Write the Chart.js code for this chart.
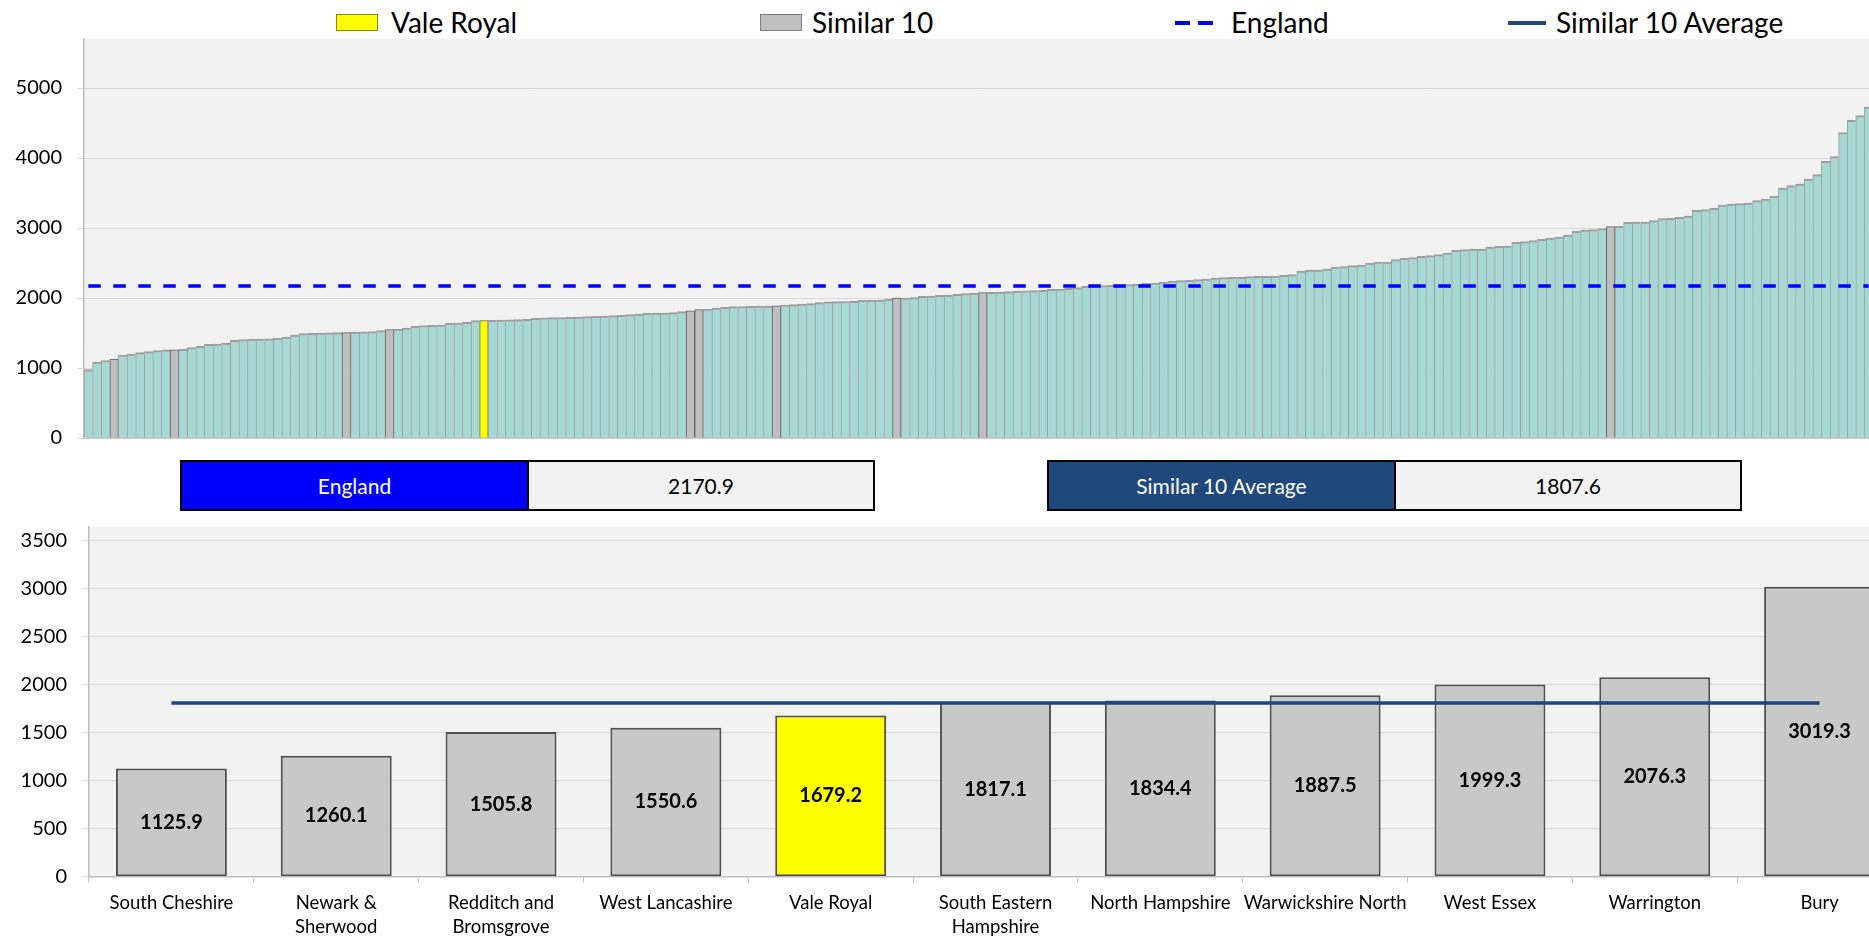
<!DOCTYPE html>
<html>
<head>
<meta charset="utf-8">
<script src="https://cdn.jsdelivr.net/npm/chart.js@4.4.0/dist/chart.umd.min.js"></script>
<style>
  html, body { margin: 0; padding: 0; background: #fff; width: 1869px; height: 936px; overflow: hidden; }
  body { position: relative; font-family: Lato, sans-serif; color: #000; }
  #topChart { position: absolute; left: 0; top: 0; }
  #bottomChart { position: absolute; left: 0; top: 520px; }
  .leg-text { position: absolute; top: 8px; height: 28px; line-height: 28px; font-size: 28px; white-space: nowrap; }
  .leg-box { position: absolute; top: 14px; width: 42px; height: 17px; box-sizing: border-box; }
  .info { position: absolute; top: 460px; width: 695px; height: 51px; border: 2px solid #000; box-sizing: border-box; display: flex; font-size: 21px; }
  .info div { display: flex; align-items: center; justify-content: center; }
  .info .name { width: 345px; color: #fff; border-right: 2px solid #000; }
  .info .val { flex: 1; background: #F2F2F2; }
</style>
</head>
<body>

<!-- legend for the top chart -->
<div class="leg-box" style="left:336px; background:#FFFF00; border:1px solid #8a8a00;"></div>
<div class="leg-text" style="left:391px;">Vale Royal</div>
<div class="leg-box" style="left:760px; background:#BFBFBF; border:1px solid #7f7f7f;"></div>
<div class="leg-text" style="left:812px;">Similar 10</div>
<svg style="position:absolute; left:1175px; top:19px;" width="40" height="8"><line x1="0" y1="4" x2="40" y2="4" stroke="#0000FF" stroke-width="4" stroke-dasharray="15 8"/></svg>
<div class="leg-text" style="left:1231px;">England</div>
<div style="position:absolute; left:1508px; top:21px; width:38px; height:4px; background:#1F497D;"></div>
<div class="leg-text" style="left:1556px;">Similar 10 Average</div>

<canvas id="topChart" width="1873" height="445"></canvas>

<div class="info" style="left:180px;"><div class="name" style="background:#0000FF;">England</div><div class="val" id="englandVal"></div></div>
<div class="info" style="left:1047px;"><div class="name" style="background:#1F497D;">Similar 10 Average</div><div class="val" id="similarVal"></div></div>

<canvas id="bottomChart" width="1902" height="416"></canvas>

<script>
// rate for every district, sorted low to high (top chart)
const districtRates = [
  976, 1086, 1105, 1125.9, 1186, 1200, 1219, 1233, 1250, 1258,
  1260.1, 1266, 1290, 1310, 1338, 1343, 1357, 1395, 1405, 1412,
  1414, 1416, 1424, 1443, 1471, 1490, 1495, 1500, 1503, 1505,
  1505.8, 1514, 1518, 1520, 1533, 1550.6, 1552, 1571, 1595, 1605,
  1610, 1614, 1638, 1643, 1652, 1676, 1679.2, 1681, 1686, 1689,
  1691, 1695, 1710, 1717, 1719, 1721, 1724, 1729, 1733, 1738,
  1743, 1748, 1752, 1762, 1771, 1781, 1784, 1786, 1790, 1805,
  1817.1, 1834.4, 1843, 1857, 1867, 1876, 1879, 1881, 1883, 1885,
  1887.5, 1900, 1905, 1914, 1919, 1933, 1945, 1948, 1950, 1952,
  1965, 1967, 1971, 1986, 1999.3, 2000, 2005, 2024, 2029, 2038,
  2043, 2052, 2062, 2071, 2076.3, 2081, 2086, 2090, 2100, 2103,
  2105, 2110, 2124, 2129, 2138, 2148, 2167, 2176, 2179, 2181,
  2186, 2190, 2200, 2210, 2214, 2229, 2243, 2248, 2252, 2262,
  2271, 2283, 2290, 2295, 2297, 2305, 2308, 2310, 2312, 2324,
  2333, 2386, 2398, 2400, 2414, 2443, 2448, 2462, 2471, 2500,
  2512, 2514, 2548, 2567, 2576, 2595, 2605, 2619, 2643, 2681,
  2690, 2698, 2700, 2729, 2738, 2743, 2795, 2805, 2819, 2838,
  2857, 2871, 2900, 2952, 2971, 2976, 2990, 3019.3, 3024, 3081,
  3084, 3086, 3105, 3133, 3138, 3152, 3171, 3252, 3262, 3281,
  3329, 3343, 3348, 3357, 3390, 3414, 3457, 3571, 3605, 3629,
  3700, 3762, 3952, 4019, 4362, 4538, 4605, 4729
];
const topTicks = [0, 1000, 2000, 3000, 4000, 5000];

// the similar 10 group (bottom chart)
const similarNames = [
  'South Cheshire', ['Newark &', 'Sherwood'], ['Redditch and', 'Bromsgrove'], 'West Lancashire', 'Vale Royal',
  ['South Eastern', 'Hampshire'], 'North Hampshire', 'Warwickshire North', 'West Essex', 'Warrington', 'Bury'
];
const similarValues = [1125.9, 1260.1, 1505.8, 1550.6, 1679.2, 1817.1, 1834.4, 1887.5, 1999.3, 2076.3, 3019.3];
const bottomTicks = [0, 500, 1000, 1500, 2000, 2500, 3000, 3500];

const englandRate = 2170.9;
const similarAvg = 1807.6;

document.getElementById('englandVal').textContent = englandRate.toFixed(1);
document.getElementById('similarVal').textContent = similarAvg.toFixed(1);

Chart.defaults.font.family = 'Lato';
Chart.defaults.color = '#000';

const valeRoyalValue = similarValues[similarNames.indexOf('Vale Royal')];

// fill in the plot area grey, like the excel chart
const plotBg = {
  id: 'plotBg',
  beforeDraw(chart, args, opts) {
    const { ctx, chartArea: a } = chart;
    ctx.save();
    ctx.fillStyle = opts.color;
    ctx.fillRect(a.left, a.top, a.right - a.left, a.bottom - a.top);
    ctx.restore();
  }
};

// bold value in the middle of each bar
const barValueLabels = {
  id: 'barValueLabels',
  afterDatasetsDraw(chart) {
    const ctx = chart.ctx;
    const meta = chart.getDatasetMeta(1);
    const values = chart.data.datasets[1].data;
    ctx.save();
    ctx.font = 'bold 20px Lato';
    ctx.fillStyle = '#000';
    ctx.textAlign = 'center';
    ctx.textBaseline = 'middle';
    meta.data.forEach((bar, i) => {
      ctx.fillText(values[i].toFixed(1), bar.x, (bar.y + bar.base) / 2);
    });
    ctx.restore();
  }
};

// y axis: fixed width, no extra room for the end labels
function fitY(width) {
  return s => {
    s.width = width;
    s.paddingTop = 0;
    s.paddingBottom = 0;
  };
}

const topFill = districtRates.map(v => v === valeRoyalValue ? '#FFFF00' : (similarValues.includes(v) ? '#BFBFBF' : '#A7D9D4'));
const topEdge = districtRates.map(v => similarValues.includes(v) ? '#5f5f5f' : '#a09ca0');
const topBorder = districtRates.map(v => similarValues.includes(v) ? 1 : { top: 2, left: 1, right: 0, bottom: 0 });

// Top chart: all districts
new Chart(document.getElementById('topChart'), {
  type: 'bar',
  data: {
    labels: districtRates.map((v, i) => i + 1),
    datasets: [
      {
        type: 'line',
        label: 'England',
        data: districtRates.map(() => englandRate),
        borderColor: '#0000FF',
        borderWidth: 3.5,
        borderDash: [12.5, 12.5],
        pointRadius: 0,
        fill: false,
        order: 0
      },
      {
        type: 'bar',
        label: 'Districts',
        data: districtRates,
        backgroundColor: topFill,
        borderColor: topEdge,
        borderWidth: topBorder,
        categoryPercentage: 1,
        barPercentage: 1,
        order: 1
      }
    ]
  },
  options: {
    responsive: false,
    animation: false,
    layout: { padding: { top: 39, bottom: 7, left: 0, right: 0 } },
    plugins: {
      legend: { display: false },
      tooltip: { enabled: false },
      plotBg: { color: '#F2F2F2' }
    },
    scales: {
      x: {
        ticks: { display: false },
        grid: { drawOnChartArea: false, drawTicks: false },
        border: { display: true, color: '#BFBFBF', width: 1.5 },
        afterFit: s => { s.height = 0; }
      },
      y: {
        min: 0,
        max: 5700,
        afterBuildTicks: s => { s.ticks = topTicks.map(v => ({ value: v })); },
        ticks: { autoSkip: false, font: { size: 20 }, padding: 15, callback: v => String(v) },
        grid: { color: '#D9D9D9', tickLength: 7 },
        border: { color: '#BFBFBF', width: 1.5 },
        afterFit: fitY(84)
      }
    }
  },
  plugins: [plotBg]
});

// Bottom chart: the similar 10
new Chart(document.getElementById('bottomChart'), {
  type: 'bar',
  data: {
    labels: similarNames,
    datasets: [
      {
        type: 'line',
        label: 'Similar 10 Average',
        data: similarNames.map(() => similarAvg),
        borderColor: '#1F497D',
        borderWidth: 3.5,
        pointRadius: 0,
        fill: false,
        order: 0
      },
      {
        type: 'bar',
        label: 'Similar 10',
        data: similarValues,
        backgroundColor: similarValues.map(v => v === valeRoyalValue ? '#FFFF00' : '#C8C8C8'),
        borderColor: '#505050',
        borderWidth: 2,
        borderSkipped: false,
        categoryPercentage: 1,
        barPercentage: 0.673,
        order: 1
      }
    ]
  },
  options: {
    responsive: false,
    animation: false,
    layout: { padding: { top: 7, bottom: 0, left: 0, right: 0 } },
    plugins: {
      legend: { display: false },
      tooltip: { enabled: false },
      plotBg: { color: '#F2F2F2' }
    },
    scales: {
      x: {
        ticks: { font: { size: 18.5, lineHeight: 1.3 }, padding: 8, maxRotation: 0, autoSkip: false },
        grid: { drawOnChartArea: false, tickLength: 6, color: '#BFBFBF', offset: true },
        border: { color: '#BFBFBF', width: 1.5 },
        afterFit: s => { s.height = 59.3; }
      },
      y: {
        min: 0,
        max: 3640,
        afterBuildTicks: s => { s.ticks = bottomTicks.map(v => ({ value: v })); },
        ticks: { autoSkip: false, font: { size: 20 }, padding: 15, callback: v => String(v) },
        grid: { color: '#D9D9D9', tickLength: 7 },
        border: { color: '#BFBFBF', width: 1.5 },
        afterFit: fitY(89)
      }
    }
  },
  plugins: [plotBg, barValueLabels]
});
</script>
</body>
</html>
